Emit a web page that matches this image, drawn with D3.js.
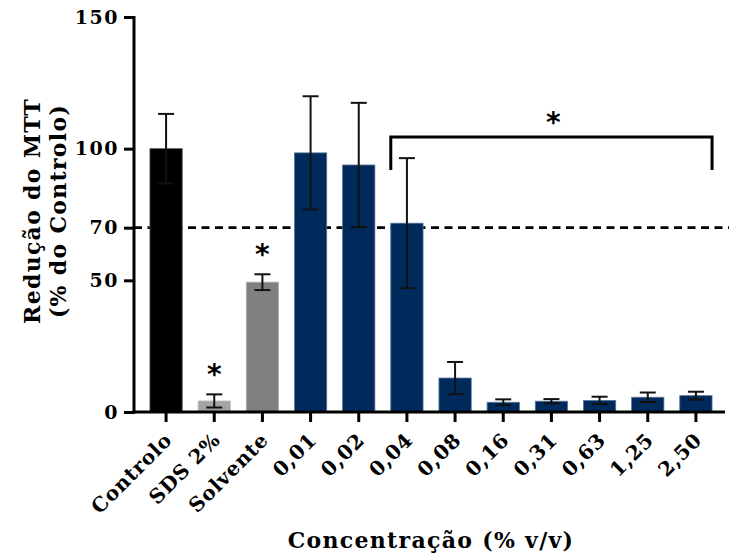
<!DOCTYPE html>
<html>
<head>
<meta charset="utf-8">
<script src="https://cdn.jsdelivr.net/npm/d3@7"></script>
<style>
body { margin: 0; background: #fff; }
text { font-family: "DejaVu Serif", serif; font-weight: bold; }
</style>
</head>
<body>
<script>
var categories = ["Controlo", "SDS 2%", "Solvente", "0,01", "0,02", "0,04", "0,08", "0,16", "0,31", "0,63", "1,25", "2,50"];
var means = [100, 4.2, 49.3, 98.4, 93.8, 71.7, 12.9, 3.7, 4.1, 4.4, 5.6, 6.2];
var errors = [13.2, 2.5, 3, 21.5, 23.6, 24.7, 6.1, 1.1, 0.8, 1.4, 1.8, 1.5];
var colors = ["#000000", "#a3a3a3", "#808080", "#002a5c", "#002a5c", "#002a5c", "#002a5c", "#002a5c", "#002a5c", "#002a5c", "#002a5c", "#002a5c"];
var yTicks = [0, 50, 70, 100, 150];
var starred = ["SDS 2%", "Solvente"];
var bracketFrom = "0,04";
var bracketTo = "2,50";
var threshold = 70;

var width = 729;
var height = 556;

var svg = d3.select("body").append("svg")
    .attr("width", width)
    .attr("height", height);

var x = d3.scaleBand()
    .domain(categories)
    .range([142, 720])
    .paddingInner(0.33)
    .paddingOuter(0.165);

var y = d3.scaleLinear()
    .domain([0, 150])
    .range([412, 17]);

var data = categories.map(function(c, i){
    return { cat: c, mean: means[i], err: errors[i], color: colors[i] };
});

// threshold line
svg.append("line")
    .attr("x1", 134).attr("x2", width)
    .attr("y1", y(threshold)).attr("y2", y(threshold))
    .attr("stroke", "#000")
    .attr("stroke-width", 2.6)
    .attr("stroke-dasharray", "8,5.5");

// bars
svg.selectAll("rect.bar")
    .data(data)
    .enter()
    .append("rect")
    .attr("class", "bar")
    .attr("x", function(d){ return x(d.cat); })
    .attr("width", x.bandwidth())
    .attr("y", function(d){ return y(d.mean); })
    .attr("height", function(d){ return y(0) - y(d.mean); })
    .attr("fill", function(d){ return d.color; })
    .attr("stroke", function(d){ return d3.interpolateRgb(d.color, "#fff")(0.35); })
    .attr("stroke-width", 0.8);

// error bars
var capW = 8;
var eb = svg.selectAll("g.err")
    .data(data)
    .enter()
    .append("g")
    .attr("class", "err")
    .attr("stroke", "#111")
    .attr("stroke-width", 2);
eb.append("line")
    .attr("x1", function(d){ return x(d.cat) + x.bandwidth()/2; })
    .attr("x2", function(d){ return x(d.cat) + x.bandwidth()/2; })
    .attr("y1", function(d){ return y(d.mean + d.err); })
    .attr("y2", function(d){ return y(d.mean - d.err); });
eb.append("line")
    .attr("x1", function(d){ return x(d.cat) + x.bandwidth()/2 - capW; })
    .attr("x2", function(d){ return x(d.cat) + x.bandwidth()/2 + capW; })
    .attr("y1", function(d){ return y(d.mean + d.err); })
    .attr("y2", function(d){ return y(d.mean + d.err); });
eb.append("line")
    .attr("x1", function(d){ return x(d.cat) + x.bandwidth()/2 - capW; })
    .attr("x2", function(d){ return x(d.cat) + x.bandwidth()/2 + capW; })
    .attr("y1", function(d){ return y(d.mean - d.err); })
    .attr("y2", function(d){ return y(d.mean - d.err); });

// axes
var yAxis = svg.append("g")
    .attr("transform", "translate(134,0)")
    .call(d3.axisLeft(y).tickValues(yTicks).tickSize(10).tickPadding(5));
yAxis.select(".domain").attr("stroke-width", 3).attr("d", "M0," + (y(150) - 1) + "V" + (y(0) + 1.5));
yAxis.selectAll(".tick line").attr("stroke-width", 3);
yAxis.selectAll(".tick text")
    .style("font-family", "DejaVu Serif")
    .style("font-weight", "bold")
    .style("font-size", "19px")
    .style("letter-spacing", "1.5px")
    .attr("fill", "#000");

var xAxis = svg.append("g")
    .attr("transform", "translate(0," + y(0) + ")")
    .call(d3.axisBottom(x).tickSize(10).tickSizeOuter(0).tickPadding(6));
xAxis.select(".domain").attr("stroke-width", 3).attr("d", "M132.5,0H725");
xAxis.selectAll(".tick line").attr("stroke-width", 3);
xAxis.selectAll(".tick text")
    .style("font-family", "DejaVu Serif")
    .style("font-weight", "bold")
    .style("font-size", "20px")
    .style("letter-spacing", "0.8px")
    .attr("fill", "#000")
    .attr("text-anchor", "end")
    .attr("dy", "0.35em")
    .attr("transform", "translate(-9,13) rotate(-45)");

// significance stars
svg.selectAll("text.star")
    .data(data.filter(function(d){ return starred.indexOf(d.cat) >= 0; }))
    .enter()
    .append("text")
    .attr("class", "star")
    .attr("x", function(d){ return x(d.cat) + x.bandwidth()/2; })
    .attr("y", function(d){ return y(d.mean + d.err) - 10; })
    .attr("text-anchor", "middle")
    .style("font-family", "DejaVu Sans")
    .style("font-size", "28px")
    .text("*");

// bracket
var bx1 = x(bracketFrom);
var bx2 = x(bracketTo) + x.bandwidth();
var by = 137;
svg.append("path")
    .attr("d", "M" + bx1 + ",170V" + by + "H" + bx2 + "V170")
    .attr("fill", "none")
    .attr("stroke", "#000")
    .attr("stroke-width", 3);
svg.append("text")
    .attr("x", (bx1 + bx2)/2 + 2)
    .attr("y", by - 5)
    .attr("text-anchor", "middle")
    .style("font-family", "DejaVu Sans")
    .style("font-size", "28px")
    .text("*");

// axis titles
svg.append("text")
    .attr("x", 431)
    .attr("y", 548)
    .attr("text-anchor", "middle")
    .style("font-size", "22px")
    .style("letter-spacing", "1.3px")
    .text("Concentração (% v/v)");

var yt = svg.append("text")
    .attr("transform", "translate(32,211) rotate(-90)")
    .attr("text-anchor", "middle")
    .style("font-size", "22px")
    .style("letter-spacing", "1.3px");
yt.append("tspan").attr("x", 0).attr("dy", "0.35em").text("Redução do MTT");
yt.append("tspan").attr("x", 0).attr("dy", "1.18em").text("(% do Controlo)");
</script>
</body>
</html>
